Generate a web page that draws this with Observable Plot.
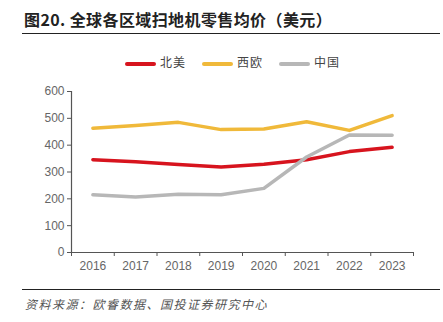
<!DOCTYPE html>
<html><head><meta charset="utf-8">
<script src="https://cdn.jsdelivr.net/npm/d3@7"></script>
<script src="https://cdn.jsdelivr.net/npm/@observablehq/plot@0.6"></script>
<style>
body{margin:0;background:#fff;width:443px;height:322px;overflow:hidden;font-family:"Noto Sans CJK SC",sans-serif;}
#title{position:absolute;left:24px;top:7px;font-size:16px;font-weight:bold;color:#222;letter-spacing:0.4px;}
#rule1{position:absolute;left:22px;top:33px;width:418px;height:1px;background:#222;}
#legend{position:absolute;left:11px;top:53px;width:443px;text-align:center;font-size:12px;color:#444;}
#legend span.item{display:inline-block;margin:0 8px;letter-spacing:1px;}
#legend span.sw{display:inline-block;width:31px;height:4px;border-radius:2px;vertical-align:middle;margin-right:4px;}
#chart{position:absolute;left:0;top:72px;}
#rule2{position:absolute;left:22px;top:289px;width:418px;height:1px;background:#222;}
#caption{position:absolute;left:25px;top:295px;font-size:12px;letter-spacing:1.5px;font-style:italic;color:#555;}
</style></head>
<body>
<div id="title">图20. 全球各区域扫地机零售均价（美元）</div>
<div id="rule1"></div>
<div id="legend"></div>
<div id="chart"></div>
<div id="rule2"></div>
<div id="caption">资料来源：欧睿数据、国投证券研究中心</div>
<script>
const years = [2016, 2017, 2018, 2019, 2020, 2021, 2022, 2023];
const seriesNames = ["北美", "西欧", "中国"];
const northAmerica = [346, 338, 328, 319, 329, 346, 376, 392];
const westernEurope = [463, 473, 485, 458, 460, 487, 455, 510];
const china = [215, 207, 217, 215, 239, 356, 438, 437];
const colors = ["#d7141e", "#f0b93a", "#b7b7b7"];
const yTicks = [0, 100, 200, 300, 400, 500, 600];

const seriesValues = [northAmerica, westernEurope, china];
const data = seriesNames.flatMap((s, i) => years.map((y, j) => ({series: s, year: y, value: seriesValues[i][j]})));
const bounds = years.map(y => y - 0.5).concat([years[years.length - 1] + 0.5]);

const leg = document.getElementById("legend");
seriesNames.forEach((s, i) => {
  const it = document.createElement("span");
  it.className = "item";
  it.innerHTML = `<span class="sw" style="background:${colors[i]}"></span>${s}`;
  leg.appendChild(it);
});

const axisColor = "#555";
const chart = Plot.plot({
  width: 443,
  height: 200,
  marginTop: 19,
  marginBottom: 20,
  marginLeft: 71,
  marginRight: 30,
  style: {fontFamily: "'Liberation Sans', Arial, sans-serif", fontSize: "12px", color: "#666", background: "transparent"},
  x: {domain: [bounds[0], bounds[bounds.length - 1]]},
  y: {domain: [0, 600]},
  marks: [
    Plot.axisY({ticks: yTicks, tickSize: 4, tickPadding: 3, stroke: axisColor, fill: "#666", label: null, fontSize: 12}),
    Plot.axisX({ticks: bounds, tickSize: 4, tickFormat: () => "", stroke: axisColor, label: null}),
    Plot.axisX({ticks: years, tickSize: 0, tickPadding: 9, tickFormat: d => String(d), fill: "#666", label: null, fontSize: 12}),
    Plot.ruleX([bounds[0]], {stroke: axisColor, strokeWidth: 1.2}),
    Plot.ruleY([0], {stroke: axisColor, strokeWidth: 1.2}),
    Plot.line(data, {x: "year", y: "value", z: "series", stroke: d => colors[seriesNames.indexOf(d.series)], strokeWidth: 3.5, curve: "linear", strokeLinecap: "round", strokeLinejoin: "round"})
  ]
});
document.getElementById("chart").appendChild(chart);
</script>
</body></html>
